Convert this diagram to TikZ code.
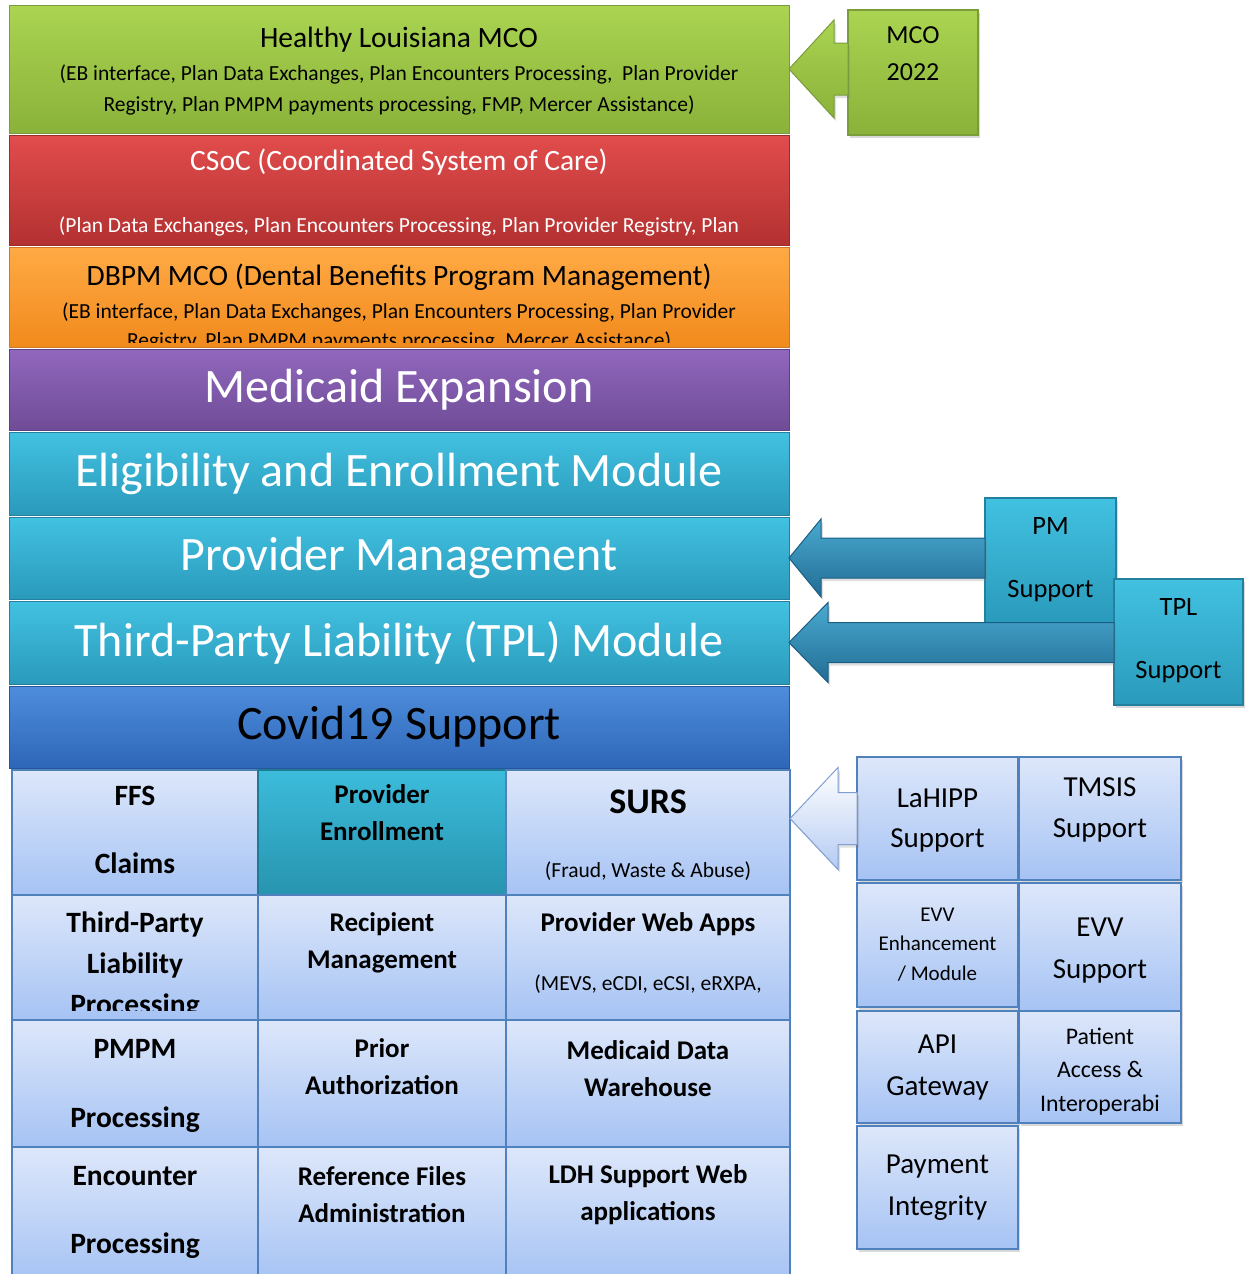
\documentclass[tikz,border=0pt]{standalone}
\usepackage{fontspec}
\setmainfont{Carlito}
\usetikzlibrary{shapes,arrows,shadows,calc}
\usetikzlibrary{positioning}

\definecolor{fg}{rgb}{0,0,0}
\definecolor{grntop}{HTML}{AAD451}
\definecolor{grnbot}{HTML}{8AB23A}
\definecolor{grnline}{HTML}{7A9C3A}
\definecolor{redtop}{HTML}{E24C4C}
\definecolor{redbot}{HTML}{B33131}
\definecolor{redline}{HTML}{9A2C2C}
\definecolor{orgtop}{HTML}{FFAA45}
\definecolor{orgbot}{HTML}{F18A1C}
\definecolor{orgline}{HTML}{CF7A22}
\definecolor{purtop}{HTML}{9167BD}
\definecolor{purbot}{HTML}{6F4C97}
\definecolor{purline}{HTML}{5D4282}
\definecolor{teatop}{HTML}{42C1E1}
\definecolor{teabot}{HTML}{2A9ABB}
\definecolor{tealine}{HTML}{23809E}
\definecolor{blutop}{HTML}{4E8DDC}
\definecolor{blubot}{HTML}{2E66B8}
\definecolor{bluline}{HTML}{25569E}
\definecolor{celltop}{HTML}{DDE7FA}
\definecolor{cellbot}{HTML}{A6C3F4}
\definecolor{cellline}{HTML}{4F81BD}
\definecolor{enrtop}{HTML}{3CBCDB}
\definecolor{enrbot}{HTML}{2794AF}
\definecolor{enrline}{HTML}{1F7B93}
\definecolor{arrtop}{HTML}{4AAAD0}
\definecolor{arrbot}{HTML}{216C94}
\definecolor{arrline}{HTML}{1B5E85}
\definecolor{wartop}{HTML}{FFFFFF}
\definecolor{warbot}{HTML}{B5CBF2}
\definecolor{warline}{HTML}{7F9FD2}

\tikzstyle{block}=[draw, line width=1pt, anchor=north west, inner sep=0pt, outer sep=0pt,
minimum width=780pt, text=fg, font=\fontsize{48}{58}\selectfont]
\tikzstyle{greenb}=[block, top color=grntop, bottom color=grnbot, draw=grnline]
\tikzstyle{redb}=[block, top color=redtop, bottom color=redbot, draw=redline]
\tikzstyle{orangeb}=[block, top color=orgtop, bottom color=orgbot, draw=orgline]
\tikzstyle{purpleb}=[block, top color=purtop, bottom color=purbot, draw=purline]
\tikzstyle{tealb}=[block, top color=teatop, bottom color=teabot, draw=tealine]
\tikzstyle{blueb}=[block, top color=blutop, bottom color=blubot, draw=bluline]
\tikzstyle{cell}=[draw=cellline, line width=1.5pt, anchor=north west, inner sep=0pt, outer sep=0pt,
top color=celltop, bottom color=cellbot]
\tikzstyle{enrcell}=[cell, top color=enrtop, bottom color=enrbot, draw=enrline]
\tikzstyle{side}=[cell, drop shadow={shadow xshift=2pt, shadow yshift=-3pt, opacity=0.3}]
\tikzstyle{tealside}=[side, top color=teatop, bottom color=teabot, draw=tealine]
\tikzstyle{greenside}=[side, top color=grntop, bottom color=grnbot, draw=grnline]
\tikzstyle{txt}=[anchor=base, align=center, inner sep=0pt, text=fg]
\tikzstyle{ttl}=[txt, font=\fontsize{29.5}{33}\selectfont]
\tikzstyle{sub}=[txt, font=\fontsize{21.5}{31}\selectfont]
\tikzstyle{celltxt}=[txt, font=\fontsize{27}{37}\selectfont\bfseries]
\tikzstyle{bigcelltxt}=[txt, font=\fontsize{29.5}{37}\selectfont\bfseries]
\tikzstyle{sidetxt}=[txt, font=\fontsize{29}{42}\selectfont]
\tikzstyle{tealarrow}=[top color=arrtop, bottom color=arrbot, draw=arrline, line width=1pt,
drop shadow={shadow xshift=2pt, shadow yshift=-3pt, opacity=0.25}]
\tikzstyle{greenarrow}=[top color=grntop, bottom color=grnbot, draw=grnline, line width=1pt,
drop shadow={shadow xshift=2pt, shadow yshift=-3pt, opacity=0.25}]
\tikzstyle{whitearrow}=[top color=wartop, bottom color=warbot, draw=warline, line width=1pt,
drop shadow={shadow xshift=2pt, shadow yshift=-3pt, opacity=0.25}]

% block arrow: style, tip, tail, head length, head half width, shaft half width
\newcommand{\blockarrow}[6]{%
  \path[#1] let \p1=(#2), \p2=(#3) in
    (\x1,\y1) -- (\x1+#4,\y1+#5) -- (\x1+#4,\y1+#6) -- (\x2,\y1+#6)
    -- (\x2,\y1-#6) -- (\x1+#4,\y1-#6) -- (\x1+#4,\y1-#5) -- cycle;}

\begin{document}
\begin{tikzpicture}[x=1pt, y=-1pt]

    \useasboundingbox (0,0) rectangle (1246,1274);

    % program stack (multi-line text sits on its last baseline)
    \node[greenb, minimum height=128pt] (healthy) at (9,5) {};
    \node[ttl] (healthy-t) at ([yshift=-42pt]healthy.north) {Healthy Louisiana MCO};
    \node[sub] (healthy-s) at ([yshift=-106pt]healthy.north) {(EB interface, Plan Data Exchanges, Plan Encounters Processing,\ \ Plan Provider\\Registry, Plan PMPM payments processing, FMP, Mercer Assistance)};

    \node[redb, minimum height=110pt, below=2pt of healthy] (csoc) {};
    \node[ttl, text=white] (csoc-t) at ([yshift=-35pt]csoc.north) {CSoC (Coordinated System of Care)};
    \node[sub, text=white] (csoc-s) at ([yshift=-97pt]csoc.north) {(Plan Data Exchanges, Plan Encounters Processing, Plan Provider Registry, Plan};

    \node[orangeb, minimum height=100pt, below=2pt of csoc] (dbpm) {};
    \node[ttl] (dbpm-t) at ([yshift=-38pt]dbpm.north) {DBPM MCO (Dental Benefits Program Management)};
    \begin{scope}
        \clip (dbpm.north west) rectangle ([yshift=5pt]dbpm.south east);
        \node[sub, font=\fontsize{21.5}{29}\selectfont] (dbpm-s) at ([yshift=-100pt]dbpm.north) {(EB interface, Plan Data Exchanges, Plan Encounters Processing, Plan Provider\\Registry, Plan PMPM payments processing, Mercer Assistance)};
    \end{scope}

    \node[purpleb, minimum height=81pt, below=2pt of dbpm, text=white] (medexp) {Medicaid Expansion};
    \node[tealb, minimum height=83pt, below=2pt of medexp, text=white] (elig) {Eligibility and Enrollment Module};
    \node[tealb, minimum height=82pt, below=2pt of elig, text=white] (provmgmt) {Provider Management};
    \node[tealb, minimum height=83pt, below=2pt of provmgmt, text=white] (tpl) {Third-Party Liability (TPL) Module};
    \node[blueb, minimum height=82pt, below=2pt of tpl] (covid) {Covid19 Support};

    % module grid
    \node[cell, minimum width=246pt, minimum height=125pt] (ffs) at (12,770) {};
    \node[enrcell, minimum width=248pt, minimum height=125pt, right=0pt of ffs] (provenr) {};
    \node[cell, minimum width=284pt, minimum height=125pt, right=0pt of provenr] (surs) {};
    \node[cell, minimum width=246pt, minimum height=125pt, below=0pt of ffs] (tplp) {};
    \node[cell, minimum width=248pt, minimum height=125pt, right=0pt of tplp] (recip) {};
    \node[cell, minimum width=284pt, minimum height=125pt, right=0pt of recip] (pwa) {};
    \node[cell, minimum width=246pt, minimum height=127pt, below=0pt of tplp] (pmpm) {};
    \node[cell, minimum width=248pt, minimum height=127pt, right=0pt of pmpm] (prior) {};
    \node[cell, minimum width=284pt, minimum height=127pt, right=0pt of prior] (mdw) {};
    \node[cell, minimum width=246pt, minimum height=135pt, below=0pt of pmpm] (enc) {};
    \node[cell, minimum width=248pt, minimum height=135pt, right=0pt of enc] (reffiles) {};
    \node[cell, minimum width=284pt, minimum height=135pt, right=0pt of reffiles] (ldh) {};

    \node[bigcelltxt] (ffs-t) at ([yshift=-103pt]ffs.north) {FFS\\[31pt]Claims};
    \node[celltxt] (provenr-t) at ([yshift=-70pt]provenr.north) {Provider\\Enrollment};
    \node[celltxt, font=\fontsize{36}{40}\selectfont\bfseries] (surs-t) at ([yshift=-43pt]surs.north) {SURS};
    \node[sub] (surs-s) at ([yshift=-107pt]surs.north) {(Fraud, Waste \& Abuse)};
    \begin{scope}
        \clip (tplp.north west) rectangle ([yshift=10pt]tplp.south east);
        \node[bigcelltxt, font=\fontsize{29.5}{41}\selectfont\bfseries] (tplp-t) at ([yshift=-119pt]tplp.north) {Third-Party\\Liability\\Processing};
    \end{scope}
    \node[celltxt] (recip-t) at ([yshift=-73pt]recip.north) {Recipient\\Management};
    \node[celltxt] (pwa-t) at ([yshift=-36pt]pwa.north) {Provider Web Apps};
    \node[sub] (pwa-s) at ([yshift=-95pt]pwa.north) {(MEVS, eCDI, eCSI, eRXPA,};
    \node[bigcelltxt] (pmpm-t) at ([yshift=-107pt]pmpm.north) {PMPM\\[32pt]Processing};
    \node[celltxt] (prior-t) at ([yshift=-74pt]prior.north) {Prior\\Authorization};
    \node[celltxt] (mdw-t) at ([yshift=-76pt]mdw.north) {Medicaid Data\\Warehouse};
    \node[bigcelltxt] (enc-t) at ([yshift=-106pt]enc.north) {Encounter\\[31pt]Processing};
    \node[celltxt] (reffiles-t) at ([yshift=-75pt]reffiles.north) {Reference Files\\Administration};
    \node[celltxt] (ldh-t) at ([yshift=-73pt]ldh.north) {LDH Support Web\\applications};

    % support boxes
    \node[greenside, minimum width=130pt, minimum height=125pt] (mco) at (848,10) {};
    \node[sidetxt, font=\fontsize{26}{37}\selectfont] (mco-t) at ([yshift=-70pt]mco.north) {MCO\\2022};

    \node[tealside, minimum width=131pt, minimum height=125pt] (pmsup) at (985,498) {};
    \node[sidetxt, font=\fontsize{26.5}{63}\selectfont] (pmsup-t) at ([yshift=-99pt]pmsup.north) {PM\\Support};
    \node[tealside, minimum width=129pt, minimum height=126pt] (tplsup) at (1114,579) {};
    \node[sidetxt, font=\fontsize{26.5}{63}\selectfont] (tplsup-t) at ([yshift=-99pt]tplsup.north) {TPL\\Support};

    \node[side, minimum width=161pt, minimum height=123pt] (lahipp) at (857,757) {};
    \node[side, minimum width=162pt, minimum height=123pt, right=1pt of lahipp] (tmsis) {};
    \node[side, minimum width=161pt, minimum height=124pt, below=3pt of lahipp] (evvenh) {};
    \node[side, minimum width=162pt, minimum height=129pt, right=1pt of evvenh.north east, anchor=north west] (evvsup) {};
    \node[side, minimum width=161pt, minimum height=112pt, below=4pt of evvenh] (api) {};
    \node[side, minimum width=162pt, minimum height=112pt, right=1pt of api] (patient) {};
    \node[side, minimum width=161pt, minimum height=123pt, below=3pt of api] (payint) {};

    \node[sidetxt, font=\fontsize{29}{40}\selectfont] (lahipp-t) at ([yshift=-90pt]lahipp.north) {LaHIPP\\Support};
    \node[sidetxt, font=\fontsize{29}{41}\selectfont] (tmsis-t) at ([yshift=-80pt]tmsis.north) {TMSIS\\Support};
    \node[sidetxt, font=\fontsize{21}{29.5}\selectfont] (evvenh-t) at ([yshift=-97pt]evvenh.north) {EVV\\Enhancement\\/ Module};
    \node[sidetxt] (evvsup-t) at ([yshift=-95pt]evvsup.north) {EVV\\Support};
    \node[sidetxt] (api-t) at ([yshift=-84pt]api.north) {API\\Gateway};
    \node[sidetxt, font=\fontsize{23.8}{33.5}\selectfont] (patient-t) at ([yshift=-100pt]patient.north) {Patient\\Access \&\\Interoperabi};
    \node[sidetxt] (payint-t) at ([yshift=-89pt]payint.north) {Payment\\Integrity};

    % block arrows into the stack
    \blockarrow{greenarrow}{healthy.east}{mco.west}{45pt}{49pt}{26pt}
    \blockarrow{tealarrow}{provmgmt.east}{pmsup.west}{32pt}{39pt}{20pt}
    \blockarrow{tealarrow}{tpl.east}{tplsup.west}{39pt}{40pt}{20pt}
    \blockarrow{whitearrow}{surs.east |- lahipp.west}{lahipp.west}{48pt}{51pt}{26pt}

\end{tikzpicture}
\end{document}
